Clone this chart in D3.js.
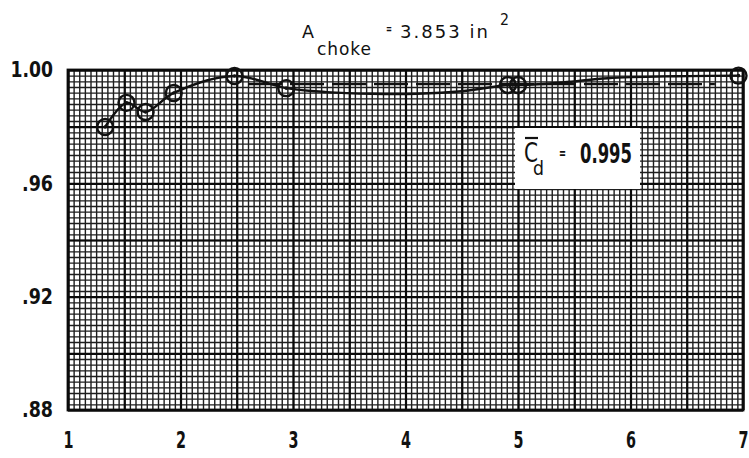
<!DOCTYPE html>
<html>
<head>
<meta charset="utf-8">
<script src="https://cdn.jsdelivr.net/npm/d3@7"></script>
<style>
  body { margin: 0; background: #fff; }
  text { fill: #111; font-family: "DejaVu Sans", sans-serif; }
</style>
</head>
<body>
<svg width="749" height="458"></svg>
<script>
// measured points (pressure ratio vs discharge coefficient)
var pointX = [1.33, 1.52, 1.69, 1.94, 2.48, 2.94, 4.91, 5.0, 6.96];
var pointY = [0.9799, 0.9884, 0.9852, 0.9919, 0.9979, 0.9936, 0.9947, 0.9947, 0.998];

// faired line drawn through the data
var lineX = [1.33, 1.52, 1.69, 1.94, 2.48, 2.94, 3.3, 3.7, 4.1, 4.5, 4.91, 5.0, 5.4, 5.8, 6.4, 6.96];
var lineY = [0.9799, 0.9884, 0.9852, 0.9919, 0.9979, 0.9936, 0.9922, 0.9916, 0.9916, 0.9925, 0.9947, 0.9947, 0.9956, 0.9971, 0.9978, 0.998];

// mean value line
var meanCd = 0.995;
var meanFrom = 2.6, meanTo = 6.75;

var xTicks = [1, 2, 3, 4, 5, 6, 7];
var yTicks = [0.88, 0.92, 0.96, 1.00];
var yTickLabels = [".88", ".92", ".96", "1.00"];

var svg = d3.select("svg"),
    margin = {top: 70, right: 6, bottom: 48, left: 68},
    width = 749 - margin.left - margin.right,
    height = 458 - margin.top - margin.bottom,
    g = svg.append("g").attr("transform", "translate(" + margin.left + "," + margin.top + ")");

var x = d3.scaleLinear().domain([1, 7]).range([0, width]);
var y = d3.scaleLinear().domain([0.88, 1.00]).range([height, 0]);

// graph paper: fine lines every 0.05 / 0.002, heavy every 0.5 / 0.02
var minorX = d3.range(0, 121).map(function(i) { return 1 + i * 0.05; });
var minorY = d3.range(0, 61).map(function(i) { return 0.88 + i * 0.002; });
var majorX = d3.range(0, 13).map(function(i) { return 1 + i * 0.5; });
var majorY = d3.range(0, 7).map(function(i) { return 0.88 + i * 0.02; });

function gridStyle(w, c) {
    return function(s) {
        s.select(".domain").remove();
        s.selectAll("line").attr("stroke", c).attr("stroke-width", w);
    };
}

g.append("g")
    .attr("class", "grid")
    .attr("transform", "translate(0," + height + ")")
    .call(d3.axisBottom(x).tickValues(minorX).tickSize(-height).tickFormat(""))
    .call(gridStyle(1.4, "#1e1e1e"));

g.append("g")
    .attr("class", "grid")
    .call(d3.axisLeft(y).tickValues(minorY).tickSize(-width).tickFormat(""))
    .call(gridStyle(1.4, "#1e1e1e"));

g.append("g")
    .attr("transform", "translate(0," + height + ")")
    .call(d3.axisBottom(x).tickValues(majorX).tickSize(-height).tickFormat(""))
    .call(gridStyle(2.2, "#0a0a0a"));

g.append("g")
    .call(d3.axisLeft(y).tickValues(majorY).tickSize(-width).tickFormat(""))
    .call(gridStyle(2.2, "#0a0a0a"));

g.append("rect")
    .attr("width", width)
    .attr("height", height)
    .attr("fill", "none")
    .attr("stroke", "#0a0a0a")
    .attr("stroke-width", 2.8);

// tick labels, squeezed to the narrow lettering of the original
function labelStyle(size, perChar) {
    return function(s) {
        s.select(".domain").remove();
        s.selectAll("text")
            .attr("font-size", size)
            .attr("font-weight", "bold")
            .attr("fill", "#111")
            .attr("lengthAdjust", "spacingAndGlyphs")
            .attr("textLength", function() {
                var t = this.textContent;
                return t.replace(".", "").length * perChar + (t.indexOf(".") >= 0 ? 8 : 0);
            });
    };
}

g.append("g")
    .attr("transform", "translate(0," + height + ")")
    .call(d3.axisBottom(x).tickValues(xTicks).tickSize(0).tickPadding(22).tickFormat(d3.format("d")))
    .call(labelStyle(23, 10));

g.append("g")
    .call(d3.axisLeft(y).tickValues(yTicks).tickSize(0).tickPadding(15)
        .tickFormat(function(d, i) { return yTickLabels[i]; }))
    .call(labelStyle(21, 11.5));

// mean dashed line
g.append("line")
    .attr("x1", x(meanFrom)).attr("x2", x(meanTo))
    .attr("y1", y(meanCd)).attr("y2", y(meanCd))
    .attr("stroke", "#111")
    .attr("stroke-width", 2.2)
    .attr("stroke-dasharray", "34,8");

// faired curve
var lineData = lineX.map(function(d, i) { return [d, lineY[i]]; });
var line = d3.line()
    .x(function(d) { return x(d[0]); })
    .y(function(d) { return y(d[1]); })
    .curve(d3.curveCatmullRom.alpha(0.5));

g.append("path")
    .datum(lineData)
    .attr("d", line)
    .attr("fill", "none")
    .attr("stroke", "#111")
    .attr("stroke-width", 2.4);

// symbols
var pts = pointX.map(function(d, i) { return {x: d, y: pointY[i]}; });
var sym = g.selectAll(".pt").data(pts).enter().append("g").attr("class", "pt")
    .attr("transform", function(d) { return "translate(" + x(d.x) + "," + y(d.y) + ")"; });
sym.append("circle").attr("r", 8).attr("fill", "none").attr("stroke", "#111").attr("stroke-width", 2.4);
sym.append("circle").attr("r", 1.8).attr("fill", "#111");

// Cd label box
var box = svg.append("g").attr("transform", "translate(515,128)");
box.append("rect").attr("width", 125).attr("height", 61).attr("fill", "#fff");
box.append("text").attr("x", 9).attr("y", 34).attr("font-size", 27)
    .attr("textLength", 14).attr("lengthAdjust", "spacingAndGlyphs").text("C");
box.append("line").attr("x1", 10).attr("x2", 23).attr("y1", 10).attr("y2", 10).attr("stroke", "#111").attr("stroke-width", 2.2);
box.append("text").attr("x", 18).attr("y", 47).attr("font-size", 20)
    .attr("textLength", 11).attr("lengthAdjust", "spacingAndGlyphs").text("d");
box.append("text").attr("x", 44).attr("y", 30).attr("font-size", 14).attr("font-weight", "bold")
    .attr("textLength", 7).attr("lengthAdjust", "spacingAndGlyphs").text("=");
box.append("text").attr("x", 65).attr("y", 35).attr("font-size", 27).attr("font-weight", "bold")
    .attr("textLength", 52).attr("lengthAdjust", "spacingAndGlyphs").text("0.995");

// title
var title = svg.append("g");
title.append("text").attr("x", 302).attr("y", 38).attr("font-size", 18)
    .attr("textLength", 12).attr("lengthAdjust", "spacingAndGlyphs").text("A");
title.append("text").attr("x", 317).attr("y", 55).attr("font-size", 17)
    .attr("textLength", 54).attr("lengthAdjust", "spacing").text("choke");
title.append("text").attr("x", 386).attr("y", 33).attr("font-size", 12).attr("font-weight", "bold")
    .attr("textLength", 6).attr("lengthAdjust", "spacingAndGlyphs").text("=");
title.append("text").attr("x", 400).attr("y", 38).attr("font-size", 18)
    .attr("textLength", 88).attr("lengthAdjust", "spacing").text("3.853 in");
title.append("text").attr("x", 500).attr("y", 25).attr("font-size", 16)
    .attr("textLength", 9).attr("lengthAdjust", "spacingAndGlyphs").text("2");
</script>
</body>
</html>
